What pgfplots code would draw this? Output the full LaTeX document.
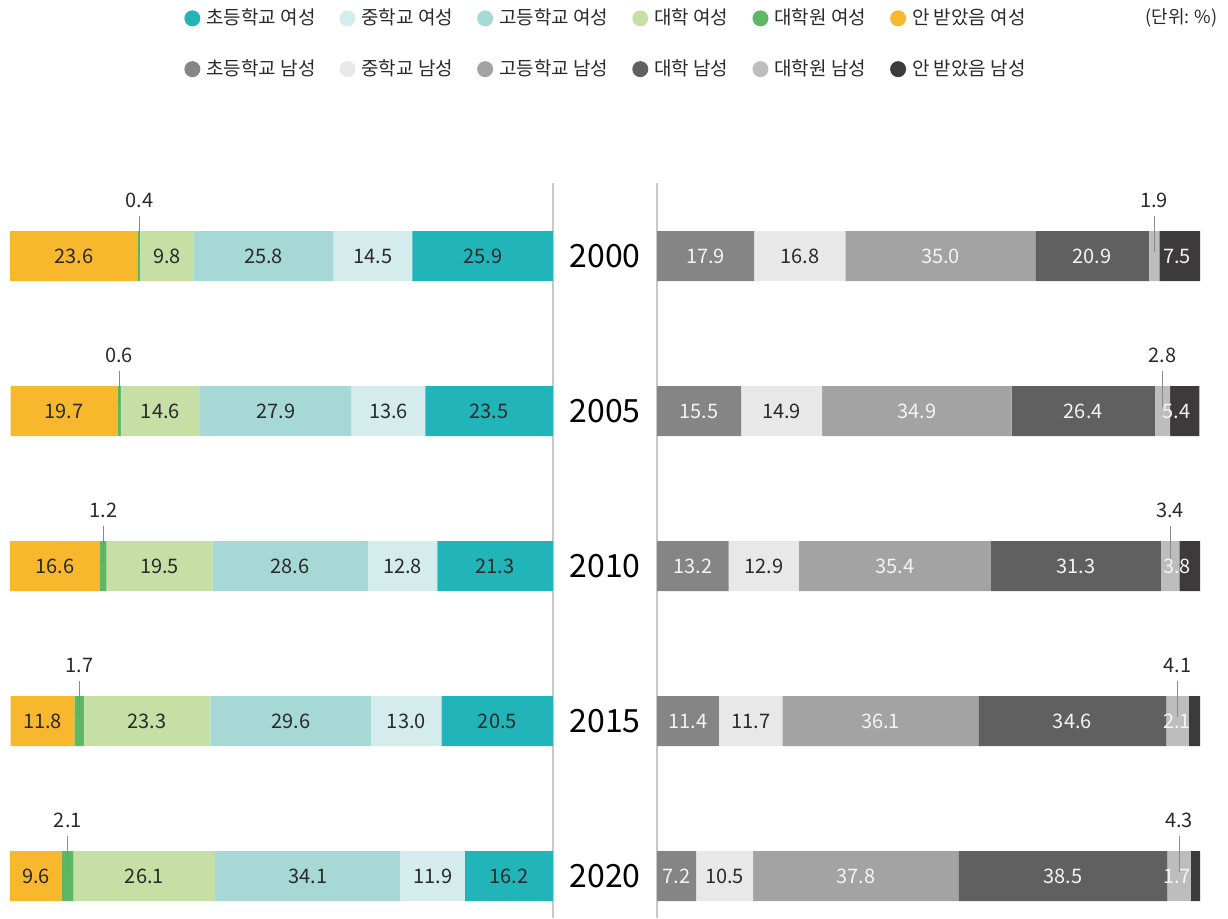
\documentclass[border=0pt]{standalone}
\usepackage{fontspec}
\setmainfont{Noto Sans CJK KR}
\usepackage{pgfplots}
\pgfplotsset{compat=1.18}
\usepackage{pgfplotstable}

\definecolor{wE}{HTML}{21B4B9}
\definecolor{wM}{HTML}{D4EDEC}
\definecolor{wH}{HTML}{A6D9D5}
\definecolor{wU}{HTML}{C5DFA5}
\definecolor{wG}{HTML}{5CB865}
\definecolor{wN}{HTML}{F7B82D}
\definecolor{mE}{HTML}{858585}
\definecolor{mM}{HTML}{E8E8E8}
\definecolor{mH}{HTML}{A3A3A3}
\definecolor{mU}{HTML}{606060}
\definecolor{mG}{HTML}{BDBDBD}
\definecolor{mN}{HTML}{3D3A3B}
\definecolor{lgray}{HTML}{C8C8C8}
\definecolor{cline}{HTML}{8A8A8A}
\definecolor{tdark}{HTML}{2A2A2A}
\definecolor{tlight}{HTML}{F4F4F4}

\newcommand{\lblfont}{\fontsize{10}{12}\selectfont}

% columns: e = elementary, m = middle, h = high school, u = university,
% g = graduate school, n = none
\pgfplotstableread{
year e m h u g n
2000 25.9 14.5 25.8 9.8 0.4 23.6
2005 23.5 13.6 27.9 14.6 0.6 19.7
2010 21.3 12.8 28.6 19.5 1.2 16.6
2015 20.5 13.0 29.6 23.3 1.7 11.8
2020 16.2 11.9 34.1 26.1 2.1 9.6
}\women
\pgfplotstableread{
year e m h u g n
2000 17.9 16.8 35.0 20.9 1.9 7.5
2005 15.5 14.9 34.9 26.4 2.8 5.4
2010 13.2 12.9 35.4 31.3 3.4 3.8
2015 11.4 11.7 36.1 34.6 4.1 2.1
2020 7.2 10.5 37.8 38.5 4.3 1.7
}\men

% segment centres (for the value labels), computed from the data
\newcommand{\addcenters}[1]{%
  \pgfplotstablecreatecol[create col/expr={\thisrow{e}/2}]{ce}#1%
  \pgfplotstablecreatecol[create col/expr={\thisrow{e}+\thisrow{m}/2}]{cm}#1%
  \pgfplotstablecreatecol[create col/expr={\thisrow{e}+\thisrow{m}+\thisrow{h}/2}]{ch}#1%
  \pgfplotstablecreatecol[create col/expr={\thisrow{e}+\thisrow{m}+\thisrow{h}+\thisrow{u}/2}]{cu}#1%
  \pgfplotstablecreatecol[create col/expr={\thisrow{e}+\thisrow{m}+\thisrow{h}+\thisrow{u}+\thisrow{g}/2}]{cg}#1%
  \pgfplotstablecreatecol[create col/expr={\thisrow{e}+\thisrow{m}+\thisrow{h}+\thisrow{u}+\thisrow{g}+\thisrow{n}/2}]{cn}#1%
  \pgfplotstablecreatecol[create col/expr={\thisrow{e}+\thisrow{m}+\thisrow{h}+\thisrow{u}+\thisrow{g}+\thisrow{n}}]{tot}#1%
}
\addcenters{\women}
\addcenters{\men}

\pgfplotsset{
  geom/.style={
    scale only axis, width=271.5pt, height=367.5pt,
    xmin=0, xmax=100, ymin=1997.645, ymax=2021.355, y dir=reverse,
    enlargelimits=false, clip=false, anchor=north west,
  },
  bars/.style={geom, xbar stacked, bar width=25pt,
    axis line style={draw=none}, xtick=\empty, major tick length=0pt},
  seg/.style={fill=#1, draw=none},
  lbl/.style={draw=none, mark=none, nodes near coords,
    point meta=explicit symbolic,
    every node near coord/.style={anchor=center, font=\lblfont, text=#1}},
  call/.style={draw=none, mark=none,
    nodes near coords={\shortstack{\pgfplotspointmeta\\[1pt]\textcolor{cline}{\rule{0.6pt}{18pt}}}},
    point meta=explicit symbolic,
    every node near coord/.style={anchor=south, inner sep=0pt, yshift=2pt,
      font=\lblfont, text=tdark}},
  endl/.style={draw=none, mark=none, nodes near coords,
    point meta=explicit symbolic,
    every node near coord/.style={anchor=east, xshift=-1pt,
      font=\lblfont, text=tlight}},
}

\begin{document}
\begin{tikzpicture}
\useasboundingbox (0,0) rectangle (614pt,-459pt);

% ---------- women (left): bars ----------
\begin{axis}[bars, x dir=reverse, at={(5pt,-91.5pt)}, ytick=\empty,
  legend columns=6, legend cell align=left,
  legend image code/.code={\fill[#1] (4pt,0pt) circle (4pt);},
  legend style={at={(axis description cs:0.3204,1.2428)}, anchor=north west,
    draw=none, fill=none, inner sep=0pt, row sep=12pt,
    font=\fontsize{9.5}{11}\selectfont, text=tdark,
    /tikz/every odd column/.append style={column sep=1pt},
    /tikz/every even column/.append style={column sep=10pt}}]
\addplot[seg=wE] table[x=e, y=year] {\women};
\addplot[seg=wM] table[x=m, y=year] {\women};
\addplot[seg=wH] table[x=h, y=year] {\women};
\addplot[seg=wU] table[x=u, y=year] {\women};
\addplot[seg=wG] table[x=g, y=year] {\women};
\addplot[seg=wN] table[x=n, y=year] {\women};
\addlegendimage{fill=mE, draw=none}
\addlegendimage{fill=mM, draw=none}
\addlegendimage{fill=mH, draw=none}
\addlegendimage{fill=mU, draw=none}
\addlegendimage{fill=mG, draw=none}
\addlegendimage{fill=mN, draw=none}
\legend{초등학교 여성, 중학교 여성, 고등학교 여성, 대학 여성, 대학원 여성, 안 받았음 여성,
        초등학교 남성, 중학교 남성, 고등학교 남성, 대학 남성, 대학원 남성, 안 받았음 남성}
\draw[lgray, line width=0.75pt] (axis cs:0,1997.645) -- (axis cs:0,2021.355);
\end{axis}

% ---------- women (left): labels ----------
\begin{axis}[geom, hide axis, x dir=reverse, at={(5pt,-91.5pt)}]
\addplot[lbl=tdark] table[x=ce, y=year, meta=e] {\women};
\addplot[lbl=tdark] table[x=cm, y=year, meta=m] {\women};
\addplot[lbl=tdark] table[x=ch, y=year, meta=h] {\women};
\addplot[lbl=tdark] table[x=cu, y=year, meta=u] {\women};
\addplot[call] table[x=cg, y=year, meta=g] {\women};
\addplot[lbl=tdark] table[x=cn, y=year, meta=n] {\women};
\end{axis}

% ---------- men (right): bars ----------
\begin{axis}[bars, at={(328.5pt,-91.5pt)},
  ytick={2000,2005,2010,2015,2020},
  yticklabels={2000,2005,2010,2015,2020},
  yticklabel style={anchor=center, xshift=-26pt, font=\fontsize{16}{18}\selectfont, text=black}]
\addplot[seg=mE] table[x=e, y=year] {\men};
\addplot[seg=mM] table[x=m, y=year] {\men};
\addplot[seg=mH] table[x=h, y=year] {\men};
\addplot[seg=mU] table[x=u, y=year] {\men};
\addplot[seg=mG] table[x=g, y=year] {\men};
\addplot[seg=mN] table[x=n, y=year] {\men};
\draw[lgray, line width=0.75pt] (axis cs:0,1997.645) -- (axis cs:0,2021.355);
\end{axis}

% ---------- men (right): labels ----------
\begin{axis}[geom, hide axis, at={(328.5pt,-91.5pt)}]
\addplot[lbl=tlight] table[x=ce, y=year, meta=e] {\men};
\addplot[lbl=tdark] table[x=cm, y=year, meta=m] {\men};
\addplot[lbl=tlight] table[x=ch, y=year, meta=h] {\men};
\addplot[lbl=tlight] table[x=cu, y=year, meta=u] {\men};
\addplot[call] table[x=cg, y=year, meta=g] {\men};
\addplot[endl] table[x=tot, y=year, meta=n] {\men};
\end{axis}

\node[anchor=east, font=\fontsize{9}{11}\selectfont, text=tdark, inner sep=0pt] at (609pt,-9pt) {(단위: \%)};
\end{tikzpicture}
\end{document}
